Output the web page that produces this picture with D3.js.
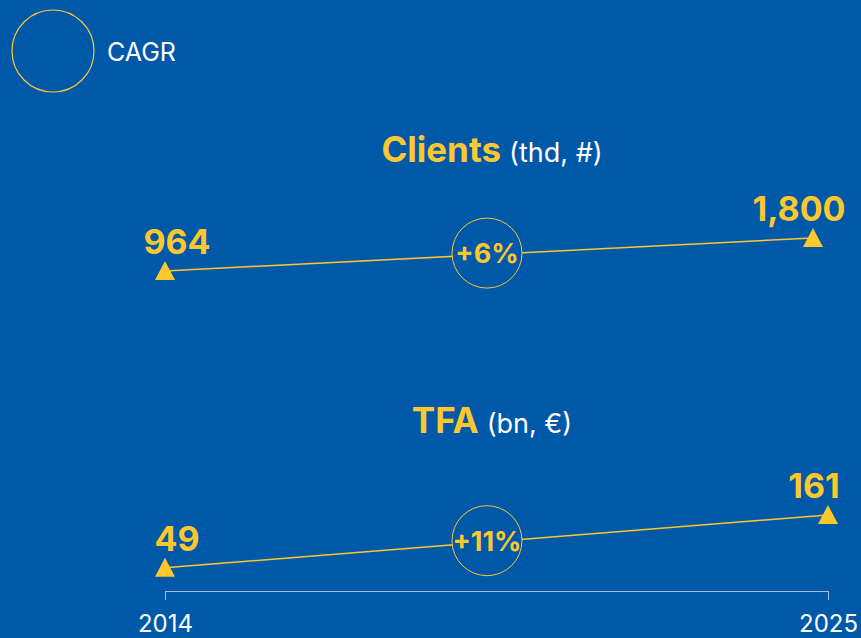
<!DOCTYPE html>
<html>
<head>
<meta charset="utf-8">
<script src="https://cdn.jsdelivr.net/npm/d3@7"></script>
<style>
  html, body { margin: 0; padding: 0; background: #0059a8; }
  svg { display: block; font-family: Inter, "Open Sans", sans-serif; }
</style>
</head>
<body>
<div id="chart"></div>
<script>
const years = [2014, 2025];
const clients = [964, 1800];
const tfa = [49, 161];
const cagr = ["+6%", "+11%"];
const titles = ["Clients", "TFA"];
const units = ["(thd, #)", "(bn, €)"];

const width = 861;
const height = 638;
const yellow = '#fdc72e';
const bg = '#0059a8';

const svg = d3.select('#chart').append('svg')
    .attr('width', width)
    .attr('height', height);

svg.append('rect')
    .attr('width', width)
    .attr('height', height)
    .attr('fill', bg);

// legend
svg.append('circle')
    .attr('cx', 53)
    .attr('cy', 51)
    .attr('r', 41)
    .attr('fill', 'none')
    .attr('stroke', yellow)
    .attr('stroke-width', 1.2);

svg.append('text')
    .attr('x', 107)
    .attr('y', 61)
    .attr('fill', '#fff')
    .attr('font-size', 25)
    .text('CAGR');

// one panel per series
const panels = [
    { values: clients, titleY: 162, xRange: [165, 813], yRange: [309, 238] },
    { values: tfa, titleY: 433, xRange: [165, 828], yRange: [591, 515] }
];

const triangle = 'M0,-10L10,9L-10,9Z';

panels.forEach((p, k) => {
    const x = d3.scaleLinear().domain(d3.extent(years)).range(p.xRange);
    const y = d3.scaleLinear().domain([0, d3.max(p.values)]).range(p.yRange);
    const pts = years.map((yr, i) => ({ year: yr, value: p.values[i] }));

    const title = svg.append('text')
        .attr('x', 492)
        .attr('y', p.titleY)
        .attr('text-anchor', 'middle');
    title.append('tspan')
        .attr('fill', yellow)
        .attr('font-weight', 700)
        .attr('font-size', 35)
        .text(titles[k]);
    title.append('tspan')
        .attr('fill', '#fff')
        .attr('font-size', 27)
        .attr('dx', 8)
        .text(units[k]);

    const line = d3.line()
        .x(d => x(d.year))
        .y(d => y(d.value));

    svg.append('path')
        .datum(pts)
        .attr('d', line)
        .attr('fill', 'none')
        .attr('stroke', yellow)
        .attr('stroke-width', 1.5);

    svg.selectAll(null).data(pts)
        .join('path')
        .attr('d', triangle)
        .attr('transform', d => `translate(${x(d.year)},${y(d.value)})`)
        .attr('fill', yellow);

    svg.selectAll(null).data(pts)
        .join('text')
        .attr('x', (d, i) => x(d.year) + (i === 0 ? 12 : -14))
        .attr('y', d => y(d.value) - 17)
        .attr('text-anchor', 'middle')
        .attr('fill', yellow)
        .attr('font-weight', 700)
        .attr('font-size', 34)
        .text(d => d3.format(',')(d.value));

    // CAGR bubble in the middle of the line
    const midYear = (years[0] + years[1]) / 2;
    const cx = d3.scaleLinear().domain(d3.extent(years)).range(panels[0].xRange)(midYear) - 2;
    const cy = y(d3.scaleLinear().domain(p.xRange).range(p.values)(cx)) - 1.5;

    svg.append('circle')
        .attr('cx', cx)
        .attr('cy', cy)
        .attr('r', 35)
        .attr('fill', bg)
        .attr('stroke', yellow)
        .attr('stroke-width', 1);

    svg.append('text')
        .attr('x', cx)
        .attr('y', cy + 10)
        .attr('text-anchor', 'middle')
        .attr('fill', yellow)
        .attr('font-weight', 700)
        .attr('font-size', 27)
        .text(cagr[k]);

    if (k === panels.length - 1) {
        const axis = svg.append('g')
            .attr('transform', `translate(0,${p.yRange[0]})`)
            .call(d3.axisBottom(x)
                .tickValues(years)
                .tickFormat(d3.format('d'))
                .tickSize(9)
                .tickSizeOuter(0)
                .tickPadding(15));
        axis.selectAll('path, line').attr('stroke', '#a9bcd6');
        axis.selectAll('text')
            .attr('fill', '#fff')
            .attr('font-size', 24)
            .attr('font-family', 'Inter, "Open Sans", sans-serif');
    }
});
</script>
</body>
</html>
